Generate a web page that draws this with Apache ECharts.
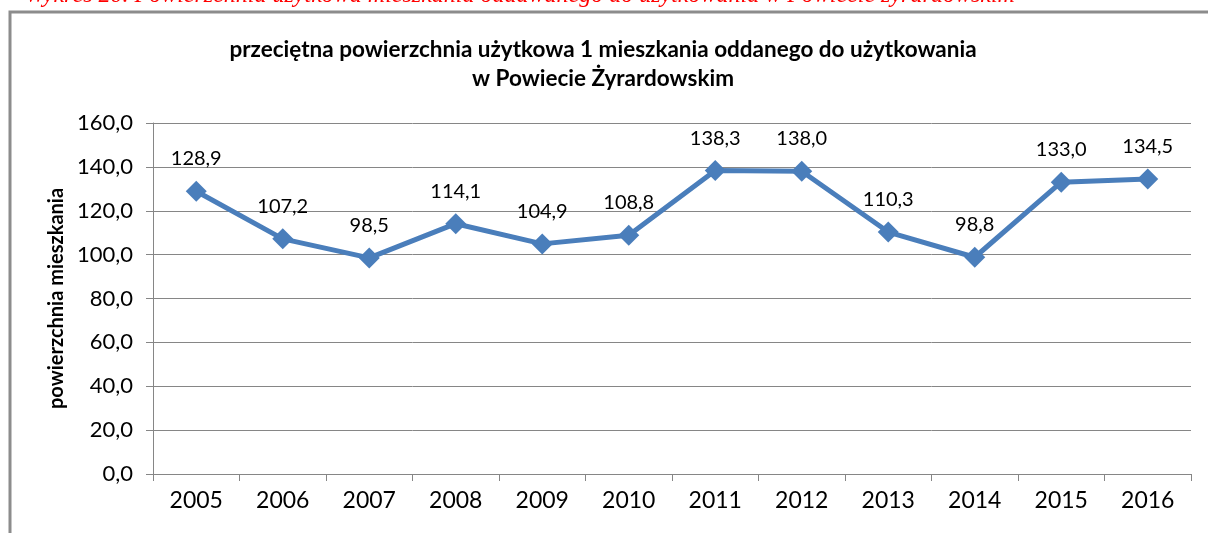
<!DOCTYPE html>
<html><head><meta charset="utf-8">
<script src="https://cdn.jsdelivr.net/npm/echarts@6/dist/echarts.min.js"></script>
<style>html,body{margin:0;padding:0;background:#fff}#c{width:1208px;height:533px}</style>
</head><body><div id="c"></div>
<script>
const categories = ['2005','2006','2007','2008','2009','2010','2011','2012','2013','2014','2015','2016'];
const values = [128.9,107.2,98.5,114.1,104.9,108.8,138.3,138.0,110.3,98.8,133.0,134.5];
const titleLines = ['przeciętna powierzchnia użytkowa 1 mieszkania oddanego do użytkowania','w Powiecie Żyrardowskim'];
const yAxisName = 'powierzchnia mieszkania';
const caption = 'Wykres 20. Powierzchnia użytkowa mieszkania oddawanego do użytkowania w Powiecie żyrardowskim';
const fmt = v => v.toFixed(1).replace('.', ',');

const chart = echarts.init(document.getElementById('c'));
chart.setOption({
  animation: false,
  textStyle: {fontFamily: 'Lato'},
  graphic: [
    {type:'rect', shape:{x:10,y:12,width:1400,height:700}, style:{fill:'none', stroke:'#8c8c8c', lineWidth:3}, z:-1},
    {type:'text', left:25, top:-16, style:{text:caption, fill:'#ff0000', font:'italic 24px "Liberation Serif"'}}
  ],
  title: {
    text: titleLines.join('\n'), left: 598, top: 30, textAlign: 'center',
    textStyle: {fontFamily:'Lato', fontWeight:'bold', fontSize:22.5, color:'#000', lineHeight:29}
  },
  grid: {left:153, right:17, top:123, bottom:59, containLabel:false},
  xAxis: {
    type:'category', data:categories, boundaryGap:true,
    axisLine:{lineStyle:{color:'#868686', width:1}},
    axisTick:{show:true, length:7, lineStyle:{color:'#868686'}},
    axisLabel:{fontSize:23, color:'#000', margin:15, fontFamily:'Lato'}
  },
  yAxis: {
    type:'value', min:0, max:160, interval:20,
    name:yAxisName, nameLocation:'middle', nameGap:83, nameRotate:90,
    nameTextStyle:{fontWeight:'bold', fontSize:20, color:'#000', fontFamily:'Lato'},
    axisLine:{show:true, lineStyle:{color:'#868686'}},
    axisTick:{show:true, length:7, lineStyle:{color:'#868686'}},
    axisLabel:{fontSize:22, color:'#000', margin:20, formatter: v => fmt(v), fontFamily:'Lato'},
    splitLine:{lineStyle:{color:'#868686', width:1}}
  },
  series: [{
    type:'line', data:values, symbol:'diamond', symbolSize:21,
    lineStyle:{color:'#4a7ebb', width:5},
    itemStyle:{color:'#4a7ebb'},
    label:{show:true, position:'top', distance:12, fontSize:20, color:'#000', fontFamily:'Lato', formatter: p => fmt(p.value)}
  }]
});
</script></body></html>
